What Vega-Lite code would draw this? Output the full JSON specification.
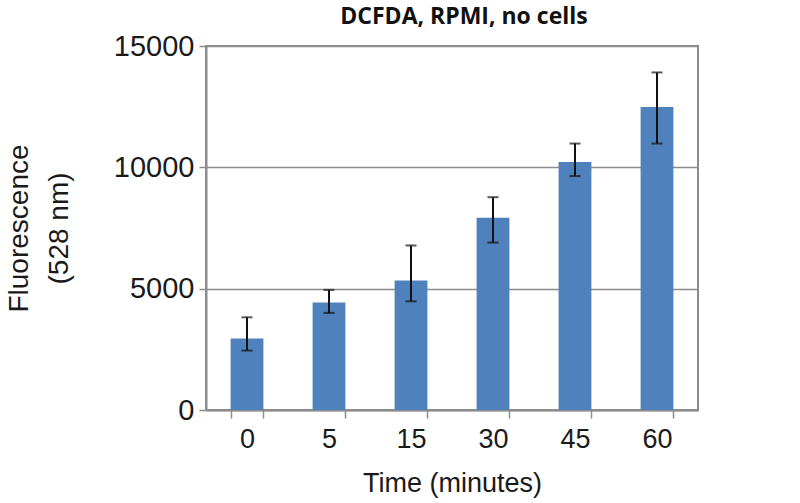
{
  "$schema": "https://vega.github.io/schema/vega-lite/v6.json",
  "width": 492,
  "height": 364,
  "autosize": "none",
  "padding": {"left": 206, "top": 46, "right": 102, "bottom": 93},
  "background": "white",
  "title": {"text": "DCFDA, RPMI, no cells", "font": "Open Sans", "fontWeight": "bold", "fontSize": 23, "color": "#111111", "offset": 3, "dx": 12},
  "data": {"values": [
    {"time": "0", "mean": 2950, "low": 2450, "high": 3820},
    {"time": "5", "mean": 4430, "low": 4000, "high": 4950},
    {"time": "15", "mean": 5340, "low": 4480, "high": 6780},
    {"time": "30", "mean": 7920, "low": 6900, "high": 8770},
    {"time": "45", "mean": 10220, "low": 9640, "high": 10980},
    {"time": "60", "mean": 12490, "low": 10980, "high": 13910}
  ]},
  "encoding": {
    "x": {
      "field": "time", "type": "ordinal", "sort": null,
      "scale": {"paddingInner": 0.6, "paddingOuter": 0.3},
      "axis": {
        "title": "Time (minutes)", "labelAngle": 0, "tickBand": "extent",
        "tickSize": 8, "tickColor": "#8c8c8c", "domainColor": "#8c8c8c", "domainWidth": 2, "tickWidth": 1.5,
        "labelFont": "Liberation Sans", "labelFontSize": 27, "labelColor": "#1a1a1a", "labelPadding": 8,
        "titleFont": "Liberation Sans", "titleFontSize": 27, "titleFontWeight": "normal", "titleColor": "#1a1a1a", "titlePadding": 18
      }
    }
  },
  "layer": [
    {
      "mark": {"type": "bar", "color": "#4F81BD"},
      "encoding": {
        "y": {
          "field": "mean", "type": "quantitative",
          "scale": {"domain": [0, 15000], "nice": false},
          "axis": {
            "title": ["Fluorescence", "(528 nm)"], "values": [0, 5000, 10000, 15000], "format": "d",
            "grid": true, "gridColor": "#8c8c8c", "gridWidth": 1.5,
            "tickSize": 7, "tickColor": "#8c8c8c", "tickWidth": 1.5, "domainColor": "#8c8c8c", "domainWidth": 2,
            "labelFont": "Liberation Sans", "labelFontSize": 29, "labelColor": "#1a1a1a", "labelPadding": 5,
            "titleFont": "Liberation Sans", "titleFontSize": 28, "titleFontWeight": "normal", "titleColor": "#1a1a1a",
            "titleLineHeight": 40, "titlePadding": 40
          }
        }
      }
    },
    {
      "mark": {"type": "errorbar", "ticks": {"size": 11, "color": "#111111", "thickness": 2}, "rule": {"color": "#111111", "strokeWidth": 2}},
      "encoding": {
        "y": {"field": "low", "type": "quantitative", "title": ["Fluorescence", "(528 nm)"]},
        "y2": {"field": "high"}
      }
    }
  ],
  "config": {"view": {"stroke": "#8c8c8c", "strokeWidth": 2}}
}
